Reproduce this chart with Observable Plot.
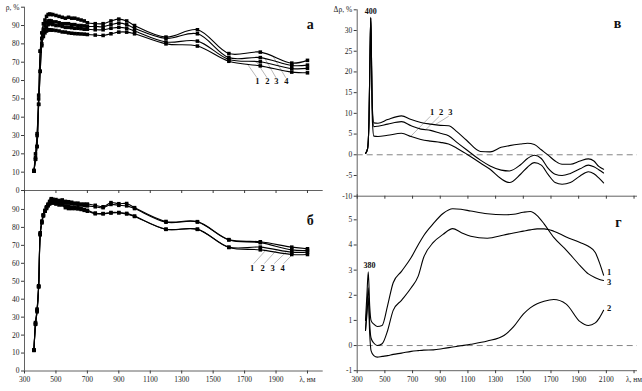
<!DOCTYPE html>
<html><head><meta charset="utf-8">
<script src="https://cdn.jsdelivr.net/npm/d3@7"></script>
<script src="https://cdn.jsdelivr.net/npm/@observablehq/plot@0.6"></script>
<style>
body{margin:0;background:#fff;}
#chart{position:relative;width:642px;height:391px;overflow:hidden;background:#fff;font-family:"Liberation Serif","Times New Roman",serif;}
#chart svg{position:absolute;overflow:visible;background:transparent;}
</style></head><body><div id="chart"></div>
<script>
// ---------- data ----------
const lamRho = [360,370,380,390,400,410,420,430,440,450,460,470,480,500,520,540,560,580,600,620,640,660,680,700,750,800,850,900,950,1000,1200,1400,1600,1800,2000,2100];
// panel а
const a1 = [11,20,31,52,76,86,91,93,95,96,96.3,96,96,95.5,95,94.5,94,94.5,94,94,93.5,93,92.5,91.5,91,91,92.5,93.5,92.5,90,83.7,87.7,74.7,75.5,69.5,71];
const a2 = [10.5,18,30,50,76,83,88,90,91.5,92.5,92.7,92.5,92,92,91.5,91,91,91,90.5,90.5,90,90,89.8,89.5,89.5,89.3,90.5,91.3,90.5,88.5,83,85.5,72.5,72.5,68.2,68.4];
const a3 = [10.5,17,24,47,65,80,85,87,89,90.5,91,91,90.5,90,90,89.5,89,89,88.8,88.5,88.5,88.3,88,88,87.7,87.7,88.5,89,88.5,87,81,81.5,71.5,70.2,66.5,66.6];
const a4 = [10.5,17,24,47,65,79,84,86,87,87.5,87.7,87.5,87.5,87.3,87,86.5,86.4,86,85.8,85.6,85.5,85.4,85.3,85.1,84.8,84.6,85.5,86.4,86.4,85.5,80,78.8,70.5,68,64.6,64.2];
// panel б
const b1 = [11.7,27,34.5,47.5,77,83.5,87,89.5,91.5,93,94.5,96,95.7,95.5,95,95.3,94.5,94.3,94,93.5,93.5,93,93,93,92.3,91.5,93.8,93.2,93.3,91,83.3,83.2,73.2,72,69,68.1];
const b2 = [11.7,26.5,34,47,76.5,83,87,89,91,92.5,94,95.5,95.2,94.8,94.5,94.3,93.8,93.5,93.3,93,92.8,92.5,92.3,92,91.5,91,92.8,92.3,92,90.5,82.9,83,73,71.5,67.5,67.2];
const b3 = [11.5,26,33.5,47,76,83,86.5,89,91,92.5,93.5,94.5,94,93.5,93.5,93,92,91.5,91.3,91,91,90.5,90,89.5,88,87.7,88.3,88.3,87.8,86.3,79,79,69,69,66.2,66.2];
const b4 = [11.5,26,33,47,76,82.5,86.5,89,90.5,92,93,94,93.5,93,92.5,92.5,91,90.5,90.5,90.5,90.3,90,89.5,89,87.6,87.6,88,88.1,87.5,86.1,78.9,78.9,68.8,67.5,64.9,64.9];
// panel в
const lamDiff = [360,375,385,393,398,403,410,420,450,520,620,690,760,830,900,960,1020,1090,1190,1260,1340,1400,1480,1530,1580,1630,1680,1730,1780,1840,1910,1970,2010,2045,2080];
const v1 = [0.3,1.5,8,25,33,22,8,4.5,4.4,4.7,5.2,4.4,3.7,3.3,3.0,2.6,1.6,0.2,-2.0,-3.5,-5.8,-6.7,-4.7,-3.0,-1.9,-2.5,-4.8,-6.7,-7.1,-6.7,-5.1,-4.1,-4.6,-5.6,-6.8];
const v2 = [0.3,1.5,8,25,33,24,10,6.8,6.9,7.4,8,7,6.2,5.9,5.2,4.6,3.0,1.2,-1.3,-2.7,-3.7,-3.9,-2.4,-0.9,-0.1,-0.9,-3.3,-4.7,-5.0,-4.5,-3.4,-2.5,-2.9,-3.6,-4.4];
const v3 = [0.3,1.5,8,25,33.2,24,11,7.7,7.6,8.5,9.4,8.5,7.8,7.4,7.1,7,5.6,3.5,0.8,0.7,1.8,2.2,2.6,2.8,2.5,1.2,-0.1,-1.5,-2.3,-2.3,-1.5,-1.0,-1.5,-2.8,-3.5];
// panel г
const lamG = [360,370,380,390,400,420,445,480,520,560,620,690,740,780,850,920,990,1050,1120,1240,1360,1430,1500,1550,1600,1650,1720,1810,1910,1970,2020,2050,2080];
const g1 = [0.6,1.5,2.3,0.9,0.3,0.1,0.0,0.07,0.6,1.4,1.8,2.3,2.75,3.5,4.1,4.42,4.65,4.5,4.35,4.27,4.4,4.48,4.55,4.6,4.64,4.64,4.55,4.32,4.1,3.95,3.7,3.3,2.8];
const g2 = [0.6,1.2,1.9,0.5,-0.2,-0.4,-0.46,-0.43,-0.4,-0.35,-0.3,-0.23,-0.2,-0.18,-0.17,-0.12,-0.06,-0.01,0.05,0.18,0.4,0.75,1.25,1.5,1.66,1.76,1.83,1.65,0.95,0.8,0.9,1.1,1.4];
const g3 = [1.0,2.0,2.93,1.6,1.0,0.85,0.76,0.8,1.6,2.5,2.95,3.5,4.0,4.37,4.85,5.25,5.44,5.42,5.35,5.24,5.2,5.22,5.3,5.33,5.17,4.84,4.3,3.8,3.18,2.85,2.7,2.63,2.59];

// ticks
const xTicksLeft = [300,500,700,900,1100,1300,1500,1700,1900,2100];
const xTicksRight = [300,500,700,900,1100,1300,1500,1700,1900,2100,2300];
const yTicksRho = [0,10,20,30,40,50,60,70,80,90,100];
const yTicksDiff = [-10,-5,0,5,10,15,20,25,30,35];
const yTicksG = [-1,0,1,2,3,4,5];
const rhoAxisLabel = "ρ, %";
const diffAxisLabel = "Δρ, %";
const lamAxisLabel = "λ, нм";

// series labels and leaders
const seriesNames = ["1","2","3","4"];
const labLamA = [1781,1845,1902,1966], labValA = 59.5;
const leadA = {x1:[1779,1843,1900,1962], y1:[61.5,61.5,61.5,61.5], x2:[1716,1772,1830,1882], y2:[69.2,70.6,71.8,73.0]};
const labLamB = [1748,1815,1878,1942], labValB = 57.5;
const leadB = {x1:[1758,1825,1888,1948], y1:[59.8,59.8,59.8,59.8], x2:[1838,1902,1965,2005], y2:[67.6,67.2,66.3,65.0]};
const labNamesV = ["1","2","3"], labLamV = [841,906,974], labValV = 10.3;
const leadV = {x1:[829,894,961], y1:[9.3,9.3,9.3], x2:[685,793,865], y2:[4.4,6.0,7.3]};
const labNamesG = ["1","3","2"], labValG = [2.92,2.52,1.47];

// ---------- helpers ----------
const tidy = (lam, series) => series.flatMap(([s, vals]) => vals.map((v, i) => ({lam: lam[i], v, s})));
const links = o => o.x1.map((_, i) => ({x1: o.x1[i], y1: o.y1[i], x2: o.x2[i], y2: o.y2[i]}));
const root = document.getElementById("chart");
const AX = "#3a3a3a";
const plain = d => String(d);
const baseStyle = {fontFamily: "Liberation Serif, Times New Roman, serif", fontSize: "7.5px", background: "transparent", overflow: "visible", color: "#222"};

function place(svg, left, top) { svg.style.left = left + "px"; svg.style.top = top + "px"; root.appendChild(svg); }

const dataA = tidy(lamRho, [["a1", a1], ["a2", a2], ["a3", a3], ["a4", a4]]);
const dataB = tidy(lamRho, [["b1", b1], ["b2", b2], ["b3", b3], ["b4", b4]]);
const dataV = tidy(lamDiff, [["1", v1], ["2", v2], ["3", v3]]);
const dataG = tidy(lamG, [["1", g1], ["2", g2], ["3", g3]]);

const boldLab = {fontWeight: "bold", fontSize: 8.5, fill: "#111"};
const letter = {fontWeight: "bold", fontSize: 14, fill: "#111", textAnchor: "middle", frameAnchor: "top-right"};

// ---------- panel а ----------
place(Plot.plot({
  width: 330, height: 200, marginLeft: 24, marginRight: 7.3, marginTop: 6.7, marginBottom: 10,
  x: {domain: [300, 2200], label: null}, y: {domain: [0, 100], label: null},
  style: baseStyle,
  marks: [
    Plot.axisX({ticks: xTicksLeft, tickFormat: () => "", tickSize: 3, stroke: AX, label: null}),
    Plot.axisY({ticks: yTicksRho, tickFormat: d => d === 100 ? rhoAxisLabel : plain(d), tickSize: 3, tickPadding: 2, stroke: AX, label: null}),
    Plot.ruleX([300], {stroke: AX, strokeWidth: 0.8}),
    Plot.ruleY([0], {stroke: AX, strokeWidth: 0.8}),
    Plot.link(links(leadA), {x1: "x1", y1: "y1", x2: "x2", y2: "y2", stroke: "#9a9a9a", strokeWidth: 0.7}),
    Plot.line(dataA, {x: "lam", y: "v", z: "s", curve: "catmull-rom", stroke: "#000", strokeWidth: 1.1}),
    Plot.dot(dataA, {x: "lam", y: "v", symbol: "square", r: 2, fill: "#000", stroke: null}),
    Plot.text(seriesNames, {x: (d, i) => labLamA[i], y: () => labValA, text: d => d, ...boldLab}),
    Plot.text(["а"], {...letter, dx: -13, dy: 12})
  ]
}), 0, 0);

// ---------- panel б ----------
place(Plot.plot({
  width: 330, height: 206, marginLeft: 24, marginRight: 7.3, marginTop: 6, marginBottom: 20.5,
  x: {domain: [300, 2200], label: null}, y: {domain: [0, 100], label: null},
  style: baseStyle,
  marks: [
    Plot.axisX({ticks: xTicksLeft, tickFormat: d => d === 2100 ? lamAxisLabel : plain(d), tickSize: 3, tickPadding: 3, stroke: AX, label: null}),
    Plot.axisY({ticks: yTicksRho.slice(0, 10), tickFormat: plain, tickSize: 3, tickPadding: 2, stroke: AX, label: null}),
    Plot.ruleX([300], {stroke: AX, strokeWidth: 0.8}),
    Plot.ruleY([0], {stroke: AX, strokeWidth: 0.8}),
    Plot.link(links(leadB), {x1: "x1", y1: "y1", x2: "x2", y2: "y2", stroke: "#9a9a9a", strokeWidth: 0.7}),
    Plot.line(dataB, {x: "lam", y: "v", z: "s", curve: "catmull-rom", stroke: "#000", strokeWidth: 1.1}),
    Plot.dot(dataB, {x: "lam", y: "v", symbol: "square", r: 2, fill: "#000", stroke: null}),
    Plot.text(seriesNames, {x: (d, i) => labLamB[i], y: () => labValB, text: d => d, ...boldLab}),
    Plot.text(["б"], {...letter, dx: -13, dy: 24})
  ]
}), 0, 185);

// ---------- panel в ----------
place(Plot.plot({
  width: 322, height: 205, marginLeft: 36.7, marginRight: 5, marginTop: 9.3, marginBottom: 9.3,
  x: {domain: [300, 2325], label: null}, y: {domain: [-10, 35], label: null},
  style: baseStyle,
  marks: [
    Plot.axisX({ticks: xTicksRight, tickFormat: () => "", tickSize: 3, stroke: AX, label: null}),
    Plot.axisY({ticks: yTicksDiff, tickFormat: d => d === 35 ? diffAxisLabel : plain(d), tickSize: 3, tickPadding: 2, stroke: AX, label: null}),
    Plot.ruleX([300], {stroke: AX, strokeWidth: 0.8}),
    Plot.ruleY([-10], {stroke: AX, strokeWidth: 0.8}),
    Plot.ruleY([0], {stroke: "#777", strokeWidth: 0.9, strokeDasharray: "6,4"}),
    Plot.link(links(leadV), {x1: "x1", y1: "y1", x2: "x2", y2: "y2", stroke: "#9a9a9a", strokeWidth: 0.7}),
    Plot.line(dataV, {x: "lam", y: "v", z: "s", curve: "monotone-x", stroke: "#000", strokeWidth: 1.1}),
    Plot.text(labNamesV, {x: (d, i) => labLamV[i], y: () => labValV, text: d => d, ...boldLab}),
    Plot.text(["400"], {x: () => 397, y: () => 33.2, dy: -6, ...boldLab, fontSize: 8}),
    Plot.text(["в"], {...letter, dx: -20, dy: 8})
  ]
}), 320, 0);

// ---------- panel г ----------
place(Plot.plot({
  width: 322, height: 203, marginLeft: 36.7, marginRight: 5, marginTop: 6.2, marginBottom: 20.8,
  x: {domain: [300, 2325], label: null}, y: {domain: [-1, 6], label: null},
  style: baseStyle,
  marks: [
    Plot.axisX({ticks: xTicksRight, tickFormat: d => d === 2300 ? lamAxisLabel : plain(d), tickSize: 3, tickPadding: 3, stroke: AX, label: null}),
    Plot.axisY({ticks: yTicksG, tickFormat: plain, tickSize: 3, tickPadding: 2, stroke: AX, label: null}),
    Plot.ruleX([300], {stroke: AX, strokeWidth: 0.8}),
    Plot.ruleY([-1], {stroke: AX, strokeWidth: 0.8}),
    Plot.ruleY([0], {stroke: "#777", strokeWidth: 0.9, strokeDasharray: "6,4"}),
    Plot.line(dataG, {x: "lam", y: "v", z: "s", curve: "monotone-x", stroke: "#000", strokeWidth: 1.1}),
    Plot.text(labNamesG, {x: () => 2105, y: (d, i) => labValG[i], text: d => d, textAnchor: "start", ...boldLab}),
    Plot.text(["380"], {x: () => 389, y: () => 2.93, dy: -6, ...boldLab, fontSize: 8}),
    Plot.text(["г"], {...letter, dx: -19, dy: 22})
  ]
}), 320, 188);
</script></body></html>
